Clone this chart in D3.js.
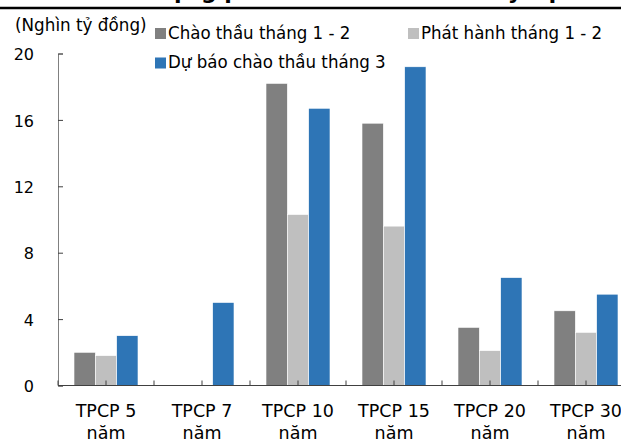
<!DOCTYPE html>
<html>
<head>
<meta charset="utf-8">
<script src="https://cdn.jsdelivr.net/npm/d3@7"></script>
<style>
  body { margin: 0; background: #fff; }
  svg { display: block; font-family: "DejaVu Sans", sans-serif; }
  .legend text { font-family: "DejaVu Sans Condensed", "DejaVu Sans", sans-serif; font-stretch: condensed; }
</style>
</head>
<body>
<svg id="chart" width="621" height="446"></svg>
<script>
(function(){

    var categories = ["TPCP 5 năm", "TPCP 7 năm", "TPCP 10 năm", "TPCP 15 năm", "TPCP 20 năm", "TPCP 30 năm"];
    var seriesNames = ["Chào thầu tháng 1 - 2", "Phát hành tháng 1 - 2", "Dự báo chào thầu tháng 3"];
    var chaoThau = [2.0, 0, 18.2, 15.8, 3.5, 4.5];
    var phatHanh = [1.8, 0, 10.3, 9.6, 2.1, 3.2];
    var duBao = [3.0, 5.0, 16.7, 19.2, 6.5, 5.5];
    var yTicks = [0, 4, 8, 12, 16, 20];
    var colors = ["#808080", "#bfbfbf", "#2e75b6"];

    var series = [chaoThau, phatHanh, duBao];

    var left = 58, right = 634, top = 53.5, bottom = 385.5;

    var svg = d3.select("svg#chart");

    // title, mostly cut off at the top edge
    svg.append("text")
        .attr("x", 330)
        .attr("y", -1)
        .attr("text-anchor", "middle")
        .attr("font-size", "22px")
        .attr("font-weight", "bold")
        .text("Khối lượng phát hành TPCP theo kỳ hạn");

    svg.append("line")
        .attr("x1", 0).attr("x2", 621)
        .attr("y1", 8).attr("y2", 8)
        .attr("stroke", "#000")
        .attr("stroke-width", 2.5);

    var x0 = d3.scaleBand()
        .domain(categories)
        .range([left, right])
        .padding(0);

    var x1 = d3.scaleBand()
        .domain(d3.range(series.length))
        .range([0, x0.bandwidth()])
        .paddingInner(0)
        .paddingOuter(0.75);

    var y = d3.scaleLinear()
        .domain([0, 20])
        .range([bottom, top]);

    // bars
    var groups = svg.append("g")
        .selectAll("g")
        .data(categories)
        .enter()
        .append("g")
        .attr("transform", (d) => "translate(" + x0(d) + ",0)");

    groups.selectAll("rect")
        .data((d, i) => series.map((s, k) => ({k: k, value: s[i]})))
        .enter()
        .append("rect")
            .attr("x", (d) => x1(d.k))
            .attr("y", (d) => y(d.value))
            .attr("width", x1.bandwidth())
            .attr("height", (d) => bottom - y(d.value))
            .attr("fill", (d) => colors[d.k])
            .attr("stroke", (d) => d.value > 0 ? "#fff" : "none")
            .attr("stroke-width", 0.6);

    // y axis
    var yAxis = svg.append("g")
        .attr("transform", "translate(" + left + ",0)")
        .call(d3.axisRight(y).tickValues(yTicks).tickSize(5).tickFormat(""));
    yAxis.select(".domain").attr("stroke", "#808080");
    yAxis.selectAll(".tick line").attr("stroke", "#404040");

    svg.append("g")
        .selectAll("text")
        .data(yTicks)
        .enter()
        .append("text")
            .attr("x", 34)
            .attr("y", (d) => y(d))
            .attr("dy", "0.42em")
            .attr("text-anchor", "end")
            .attr("font-size", "16px")
            .attr("fill", "#000")
            .text((d) => d);

    // x axis
    svg.append("line")
        .attr("x1", left).attr("x2", right)
        .attr("y1", bottom).attr("y2", bottom)
        .attr("stroke", "#404040")
        .attr("stroke-width", 1.2);

    var tickPos = [];
    categories.forEach(function(c) {
        tickPos.push(x0(c));
        tickPos.push(x0(c) + x0.bandwidth() / 2);
    });
    svg.append("g")
        .selectAll("line")
        .data(tickPos)
        .enter()
        .append("line")
            .attr("x1", (d) => d).attr("x2", (d) => d)
            .attr("y1", bottom).attr("y2", bottom - 5)
            .attr("stroke", "#404040");

    var labels = svg.append("g")
        .selectAll("text")
        .data(categories)
        .enter()
        .append("text")
            .attr("x", (d) => x0(d) + x0.bandwidth() / 2)
            .attr("y", 417)
            .attr("text-anchor", "middle")
            .attr("font-size", "17.5px")
            .attr("fill", "#000");
    labels.append("tspan")
        .attr("x", (d) => x0(d) + x0.bandwidth() / 2)
        .text((d) => d.split(" ").slice(0, 2).join(" "));
    labels.append("tspan")
        .attr("x", (d) => x0(d) + x0.bandwidth() / 2)
        .attr("dy", 22)
        .text((d) => d.split(" ").slice(2).join(" "));

    // unit label
    svg.append("text")
        .attr("x", 15)
        .attr("y", 30.5)
        .attr("font-size", "16.8px")
        .text("(Nghìn tỷ đồng)");

    // legend
    var legendPos = [[155, 38.5], [408, 38.5], [155, 68]];
    var legend = svg.append("g")
        .attr("class", "legend")
        .selectAll("g")
        .data(seriesNames)
        .enter()
        .append("g")
        .attr("transform", (d, i) => "translate(" + legendPos[i][0] + "," + legendPos[i][1] + ")");
    legend.append("rect")
        .attr("x", 0).attr("y", -10.5)
        .attr("width", 11).attr("height", 11)
        .attr("fill", (d, i) => colors[i]);
    legend.append("text")
        .attr("x", 13)
        .attr("y", 0)
        .attr("font-size", "18.5px")
        .text((d) => d);

})()
</script>
</body>
</html>
